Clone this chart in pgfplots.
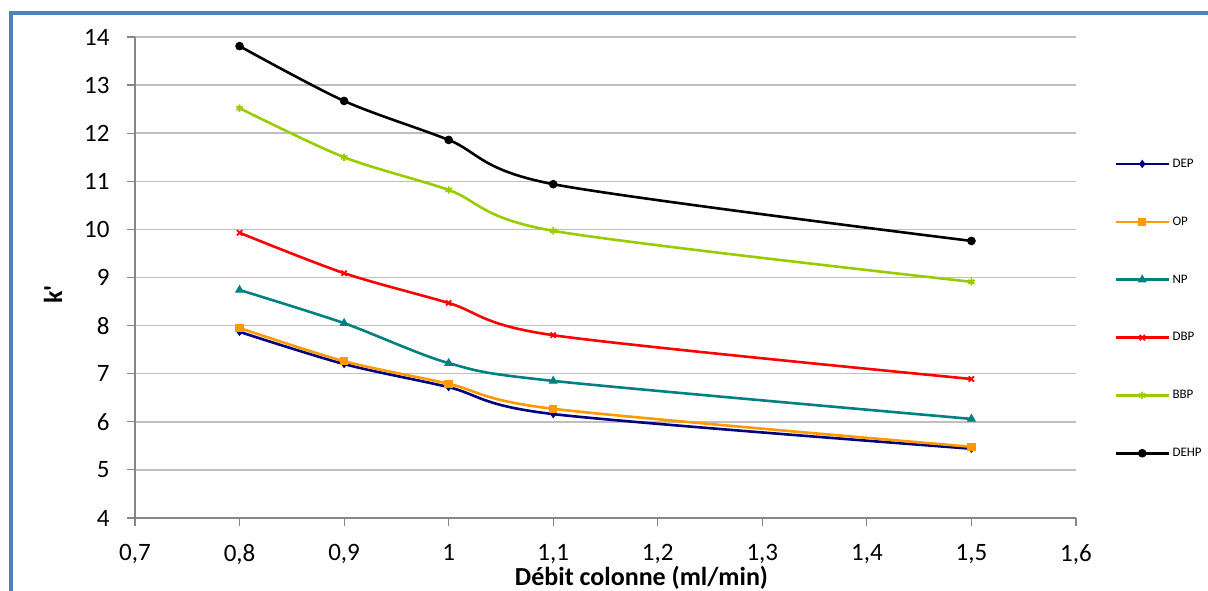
\documentclass[border=0pt]{standalone}
\usepackage{pgfplots}
\pgfplotsset{compat=1.18}
\usepackage{fontspec}
\setmainfont{Carlito}
\definecolor{bord}{HTML}{4F81BD}
\definecolor{axgray}{HTML}{868686}
\definecolor{gridgray}{HTML}{BFBFBF}
\definecolor{cDEP}{HTML}{000080}
\definecolor{cOP}{HTML}{FF9900}
\definecolor{cNP}{HTML}{008080}
\definecolor{cDBP}{HTML}{FF0000}
\definecolor{cBBP}{HTML}{99CC00}
\definecolor{cDEHP}{HTML}{000000}
\begin{document}
\begin{tikzpicture}
\path[use as bounding box] (0pt,0pt) rectangle (1208pt,591pt);
\fill[white] (0pt,0pt) rectangle (1208pt,591pt);
\draw[bord, line width=4pt] (11pt,0pt) -- (11pt,578pt) -- (1208pt,578pt);
\begin{axis}[
  at={(135pt,73pt)}, anchor=south west,
  scale only axis, width=941pt, height=481pt,
  xmin=0.7, xmax=1.6, ymin=4, ymax=14,
  xtick={0.7,0.8,0.9,1,1.1,1.2,1.3,1.4,1.5,1.6},
  ytick={4,5,6,7,8,9,10,11,12,13,14},
  axis x line*=bottom, axis y line*=left,
  axis line style={axgray, line width=1.2pt, -},
  ymajorgrids, grid style={gridgray, line width=1.5pt},
  tick align=outside, major tick length=8pt,
  tick style={axgray, line width=1.2pt},
  ticklabel style={font=\fontsize{25}{30}\selectfont},
  yticklabel style={xshift=-14pt},
  xticklabel style={yshift=-15pt},
  /pgf/number format/.cd, use comma, assume math mode=true, fixed,
  /pgfplots/.cd,
  xlabel={\textbf{Débit colonne (ml/min)}},
  xlabel style={font=\fontsize{26}{30}\selectfont, at={(axis description cs:0.5,0)}, anchor=center, xshift=36pt, yshift=-60pt},
  ylabel={\textbf{k\textquotesingle}},
  ylabel style={font=\fontsize{26}{30}\selectfont, at={(axis description cs:-0.087,0.465)}, anchor=center},
  legend style={at={(1.038,0.755)}, anchor=north west, draw=none, fill=none,
    font=\fontsize{13}{15}\selectfont, row sep=44pt, legend cell align=left},
  legend image code/.code={\draw[mark repeat=2,mark phase=2] plot coordinates {(0pt,0pt) (26pt,0pt) (53pt,0pt)};},
  every axis plot/.append style={smooth, line width=2.6pt, mark options={solid, line width=1pt}},
]
\addplot[cDEP, mark=diamond*, mark size=3.4pt] coordinates {(0.8,7.87) (0.9,7.20) (1.0,6.72) (1.1,6.16) (1.5,5.44)};
\addlegendentry{DEP}
\addplot[cOP, mark=square*, mark size=3.7pt] coordinates {(0.8,7.95) (0.9,7.26) (1.0,6.79) (1.1,6.27) (1.5,5.48)};
\addlegendentry{OP}
\addplot[cNP, mark=triangle*, mark size=4.3pt] coordinates {(0.8,8.74) (0.9,8.05) (1.0,7.22) (1.1,6.85) (1.5,6.06)};
\addlegendentry{NP}
\addplot[cDBP, mark=x, mark size=3.7pt, mark options={line width=1.8pt}] coordinates {(0.8,9.93) (0.9,9.09) (1.0,8.47) (1.1,7.80) (1.5,6.89)};
\addlegendentry{DBP}
\addplot[cBBP, mark=asterisk, mark size=3.7pt, mark options={line width=1.8pt}] coordinates {(0.8,12.52) (0.9,11.50) (1.0,10.82) (1.1,9.97) (1.5,8.91)};
\addlegendentry{BBP}
\addplot[cDEHP, mark=*, mark size=3.8pt] coordinates {(0.8,13.81) (0.9,12.67) (1.0,11.86) (1.1,10.94) (1.5,9.76)};
\addlegendentry{DEHP}
\end{axis}
\end{tikzpicture}
\end{document}
